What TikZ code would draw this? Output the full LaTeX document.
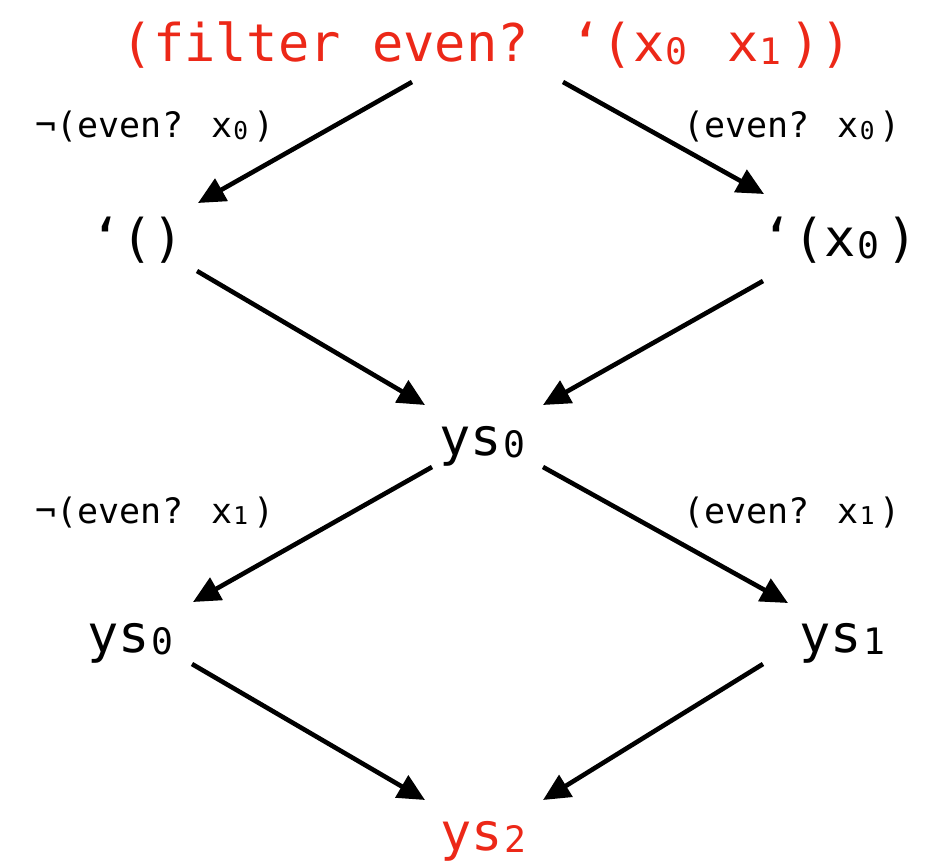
\documentclass[tikz,border=0pt]{standalone}
\usepackage{fontspec}
\newfontfamily\mono{DejaVu Sans Mono}
\usetikzlibrary{arrows.meta}
\definecolor{hlred}{RGB}{236,40,24}
\newcommand\sbd[1]{\makebox[0.602em][l]{\kern0.03em\raisebox{-0.04em}{\scalebox{0.7}{#1}}}}
\begin{document}
\begin{tikzpicture}[x=1pt,y=-1pt,
  big/.style={anchor=base,inner sep=0pt,font=\mono\fontsize{52}{60}\selectfont},
  lbl/.style={anchor=base,inner sep=0pt,font=\mono\fontsize{35}{42}\selectfont},
  arr/.style={line width=4.6pt,-{Triangle[length=27pt,width=25pt]}}]
\path[use as bounding box] (0,0) rectangle (933,861);
\node[big,text=hlred] (title) at (487,62) {(filter even? ‘(x\sbd{0} x\sbd{1}))};
\node[big] (lq) at (137,256) {‘()};
\node[big] (lx) at (840,256) {‘(x\sbd{0})};
\node[big] (mid) at (486,455) {ys\sbd{0}};
\node[big] (ysl) at (134,652) {ys\sbd{0}};
\node[big] (ysr) at (846,652) {ys\sbd{1}};
\node[big,text=hlred] (bot) at (487,850) {ys\sbd{2}};
\node[lbl] (l1) at (155,138) {¬(even? x\sbd{0})};
\node[lbl] (r1) at (792,138) {(even? x\sbd{0})};
\node[lbl] (l2) at (155,523) {¬(even? x\sbd{1})};
\node[lbl] (r2) at (792,523) {(even? x\sbd{1})};
\draw[arr] ([shift={(-75,20)}]title.base) -- ([shift={(61,-53)}]lq.base);
\draw[arr] ([shift={(76,20)}]title.base) -- ([shift={(-76,-62)}]lx.base);
\draw[arr] ([shift={(60,15)}]lq.base) -- ([shift={(-61,-50)}]mid.base);
\draw[arr] ([shift={(-77,25)}]lx.base) -- ([shift={(57,-50)}]mid.base);
\draw[arr] ([shift={(-54,12)}]mid.base) -- ([shift={(59,-50)}]ysl.base);
\draw[arr] ([shift={(57,12)}]mid.base) -- ([shift={(-58,-49)}]ysr.base);
\draw[arr] ([shift={(58,12)}]ysl.base) -- ([shift={(-62,-50)}]bot.base);
\draw[arr] ([shift={(-83,12)}]ysr.base) -- ([shift={(56,-50)}]bot.base);
\end{tikzpicture}
\end{document}
